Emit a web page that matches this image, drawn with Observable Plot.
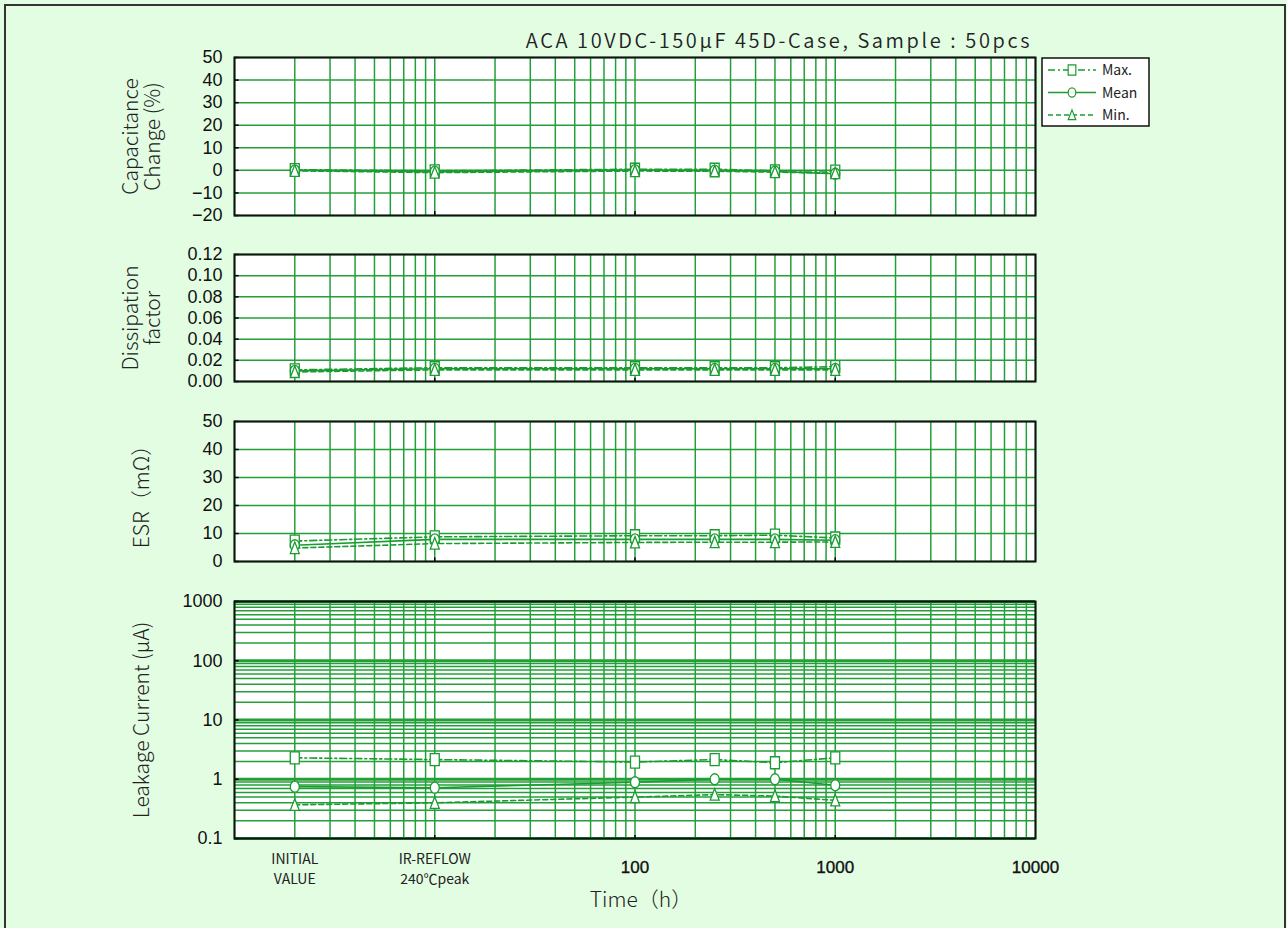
<!DOCTYPE html>
<html>
<head>
<meta charset="utf-8">
<script src="https://cdn.jsdelivr.net/npm/d3@7"></script>
<script src="https://cdn.jsdelivr.net/npm/@observablehq/plot@0.6"></script>
<style>
  html, body { margin: 0; padding: 0; background: #e3fde3; }
  #chart { position: relative; width: 1287px; height: 928px; overflow: hidden; background: #e3fde3;
           font-family: "Noto Sans CJK JP", "Noto Sans", sans-serif; color: #111; }
  #border { position: absolute; left: 4px; top: 4px; width: 1282px; height: 940px;
            border: 2px solid #333; box-sizing: border-box; }
  .panel { position: absolute; left: 0; }
  .panel svg { overflow: visible; background: transparent; }
  #title { position: absolute; right: 255px; top: 25px; font-size: 20px; white-space: nowrap;
           letter-spacing: 2.6px; font-weight: 350; color: #222; }
  #legend { position: absolute; left: 1041px; top: 57px; }
</style>
</head>
<body>
<div id="chart">
  <div id="border"></div>
  <div id="title">ACA 10VDC-150μF 45D-Case, Sample : 50pcs</div>
  <div id="p1" class="panel"></div>
  <div id="p2" class="panel"></div>
  <div id="p3" class="panel"></div>
  <div id="p4" class="panel"></div>
  <div id="legend"></div>
</div>
<script>
// ---------------- data ----------------
const times = [2, 10, 100, 250, 500, 1000];            // INITIAL, IR-REFLOW, 100h, 250h, 500h, 1000h
const xTickValues = [2, 10, 100, 1000, 10000];
const xTickLabels = ["INITIAL\nVALUE", "IR-REFLOW\n240℃peak", "100", "1000", "10000"];
const seriesNames = ["Max.", "Mean", "Min."];

const capMax  = [0.3, -0.2, 0.5, 0.5, -0.2, -0.3];
const capMean = [0.0, -0.6, 0.1, -0.1, -0.5, -1.5];
const capMin  = [-0.2, -1.0, -0.3, -0.4, -0.8, -1.2];

const dfMax  = [0.011, 0.013, 0.013, 0.013, 0.013, 0.014];
const dfMean = [0.010, 0.012, 0.012, 0.012, 0.012, 0.012];
const dfMin  = [0.009, 0.011, 0.011, 0.011, 0.011, 0.011];

const esrMax  = [7.3, 8.8, 9.2, 9.2, 9.4, 8.4];
const esrMean = [5.8, 7.9, 7.9, 7.9, 7.9, 7.6];
const esrMin  = [4.8, 6.4, 6.8, 6.9, 6.9, 7.0];

const lcMax  = [2.3, 2.15, 1.95, 2.15, 1.9, 2.3];
const lcMean = [0.75, 0.72, 0.89, 1.0, 1.0, 0.79];
const lcMin  = [0.37, 0.40, 0.50, 0.55, 0.52, 0.44];

const capTicks = [-20, -10, 0, 10, 20, 30, 40, 50];
const dfTicks  = [0, 0.02, 0.04, 0.06, 0.08, 0.10, 0.12];
const esrTicks = [0, 10, 20, 30, 40, 50];
const lcTicks  = [0.1, 1, 10, 100, 1000];

// ---------------- styles ----------------
const GREEN = "#1a9c30";
const GRID = "#22a038";
const FONT = "'Noto Sans CJK JP', 'Noto Sans', sans-serif";
const NUMFONT = "'Liberation Sans', Arial, sans-serif";
const dashes = {"Max.": "7,3,2,3", "Mean": null, "Min.": "5,3"};

// tall marker shapes
const symSquare = {draw(c) { c.rect(-4.5, -6, 9, 12); }};
const symEllipse = {draw(c) {
  const rx = 4.5, ry = 5.5, k = 0.5523;
  c.moveTo(rx, 0);
  c.bezierCurveTo(rx, ry * k, rx * k, ry, 0, ry);
  c.bezierCurveTo(-rx * k, ry, -rx, ry * k, -rx, 0);
  c.bezierCurveTo(-rx, -ry * k, -rx * k, -ry, 0, -ry);
  c.bezierCurveTo(rx * k, -ry, rx, -ry * k, rx, 0);
  c.closePath();
}};
const symTri = {draw(c) { c.moveTo(0, -6); c.lineTo(4.5, 5.5); c.lineTo(-4.5, 5.5); c.closePath(); }};
const symbols = {"Max.": symSquare, "Mean": symEllipse, "Min.": symTri};

// x grid: full log grid 1..10000
const xGrid = [];
for (let k = 0; k < 4; k++) for (let m = 1; m <= 9; m++) xGrid.push(m * 10 ** k);
xGrid.push(10000);

function toRows(arrs) {
  const rows = [];
  seriesNames.forEach((s, i) => times.forEach((t, j) => rows.push({series: s, t, v: arrs[i][j]})));
  return rows;
}

function panel({el, top, frameH, yType, yDomain, yTicks, yFormat, yGrid, yGridMajor, rows, label, labelSize = 21, labelSpacing = 1, extraMarks = [], mb = 12}) {
  const mt = 12;
  const [y0, y1] = yDomain;
  const tickLen = yType === "log" ? (v => v * 1.12) : (v => v + (y1 - y0) * 0.025);
  const marks = [
    Plot.frame({fill: "white", stroke: null}),
    Plot.ruleX(xGrid, {stroke: GRID, strokeWidth: 1.5}),
    Plot.ruleY(yGrid, {stroke: GRID, strokeWidth: 1.5}),
    yGridMajor ? Plot.ruleY(yGridMajor, {stroke: GRID, strokeWidth: 3}) : null,
    ...seriesNames.map(s => Plot.line(rows.filter(r => r.series === s), {
      x: "t", y: "v", stroke: GREEN, strokeWidth: 1.6, strokeDasharray: dashes[s]
    })),
    ...seriesNames.map(s => Plot.dot(rows.filter(r => r.series === s), {
      x: "t", y: "v", symbol: () => symbols[s], stroke: GREEN, fill: "white", strokeWidth: 1.3, r: 5
    })),
    // small black inward ticks
    Plot.ruleY(yTicks, {y: d => d, x1: 1, x2: 1.055, stroke: "black", strokeWidth: 1.5}),
    Plot.ruleX([10, 100, 1000], {x: d => d, y1: y0, y2: tickLen(y0), stroke: "black", strokeWidth: 1.5}),
    Plot.frame({stroke: "#111", strokeWidth: 2}),
    Plot.axisY(yTicks, {tickSize: 0, tickPadding: 12, fontSize: 18, tickFormat: yFormat, fill: "#111",
      fontFamily: NUMFONT, stroke: "#111", strokeWidth: 0.35, label: null}),
    Plot.text([label], {text: d => d, frameAnchor: "left", dx: -93, rotate: -90, fontSize: labelSize,
      textAnchor: "middle", lineAnchor: "middle", lineHeight: 1.05, fill: "#222", fontWeight: 300,
      letterSpacing: labelSpacing}),
    ...extraMarks
  ].filter(Boolean);
  const svg = Plot.plot({
    width: 1287, height: frameH + mt + mb,
    marginLeft: 234, marginRight: 252, marginTop: mt, marginBottom: mb,
    style: {background: "transparent", fontFamily: FONT, overflow: "visible"},
    x: {type: "log", domain: [1, 10000], axis: null, label: null},
    y: {type: yType, domain: yDomain, axis: null, label: null},
    marks
  });
  const host = document.getElementById(el);
  host.style.top = (top - mt) + "px";
  host.appendChild(svg);
}

// P1 capacitance
panel({el: "p1", top: 57, frameH: 158, yType: "linear", yDomain: [-20, 50], yTicks: capTicks,
  yFormat: d => (d < 0 ? "−" + Math.abs(d) : String(d)), yGrid: capTicks,
  rows: toRows([capMax, capMean, capMin]), label: "Capacitance\nChange (%)", labelSpacing: 1.3});

// P2 dissipation factor
panel({el: "p2", top: 254, frameH: 127, yType: "linear", yDomain: [0, 0.12], yTicks: dfTicks,
  yFormat: d => d.toFixed(2), yGrid: dfTicks,
  rows: toRows([dfMax, dfMean, dfMin]), label: "Dissipation\nfactor", labelSpacing: 1.1});

// P3 ESR
panel({el: "p3", top: 421, frameH: 140, yType: "linear", yDomain: [0, 50], yTicks: esrTicks,
  yFormat: d => String(d), yGrid: esrTicks,
  rows: toRows([esrMax, esrMean, esrMin]), label: "ESR（mΩ）", labelSpacing: 1});

// P4 leakage current
const lcGrid = [];
for (let k = -1; k < 3; k++) for (let m = 2; m <= 9; m++) lcGrid.push(m * 10 ** k);
panel({el: "p4", top: 601, frameH: 237, yType: "log", yDomain: [0.1, 1000], yTicks: lcTicks,
  yFormat: d => String(d), yGrid: lcGrid, yGridMajor: lcTicks,
  rows: toRows([lcMax, lcMean, lcMin]), label: "Leakage Current (μA)", labelSpacing: 1.4, mb: 80,
  extraMarks: [
    Plot.text(xTickValues.slice(0, 2), {x: d => d, text: (d, i) => xTickLabels[i], frameAnchor: "bottom",
      dy: 29, fontSize: 14, lineHeight: 1.4, fill: "#222", lineAnchor: "middle",
      fontFamily: "'Liberation Sans Narrow', 'Noto Sans CJK JP', sans-serif"}),
    Plot.text(xTickValues.slice(2), {x: d => d, text: (d, i) => xTickLabels[i + 2], frameAnchor: "bottom",
      dy: 29, fontSize: 17, fill: "#111", lineAnchor: "middle", fontFamily: NUMFONT,
      stroke: "#111", strokeWidth: 0.35}),
    Plot.text(["Time（h）"], {x: () => 100, text: d => d, frameAnchor: "bottom", dy: 62, dx: 6, fontSize: 21,
      fill: "#222", lineAnchor: "middle", fontWeight: 300, letterSpacing: 2.5})
  ]});

// ---------------- legend ----------------
const lg = d3.select("#legend").append("svg").attr("width", 110).attr("height", 71)
  .style("font-family", FONT);
lg.append("rect").attr("x", 1).attr("y", 1).attr("width", 107).attr("height", 68)
  .attr("fill", "white").attr("stroke", "#111").attr("stroke-width", 1.5);
seriesNames.forEach((s, i) => {
  const y = 13 + i * 22.5;
  lg.append("line").attr("x1", 7).attr("x2", 55).attr("y1", y).attr("y2", y)
    .attr("stroke", GREEN).attr("stroke-width", 1.5).attr("stroke-dasharray", dashes[s]);
  lg.append("path").attr("transform", `translate(31,${y}) scale(0.85)`)
    .attr("d", d3.symbol(symbols[s])()).attr("fill", "white").attr("stroke", GREEN).attr("stroke-width", 1.4);
  lg.append("text").attr("x", 61).attr("y", y).attr("dy", "0.36em").attr("font-size", 14)
    .attr("fill", "#222").text(s);
});
</script>
</body>
</html>
